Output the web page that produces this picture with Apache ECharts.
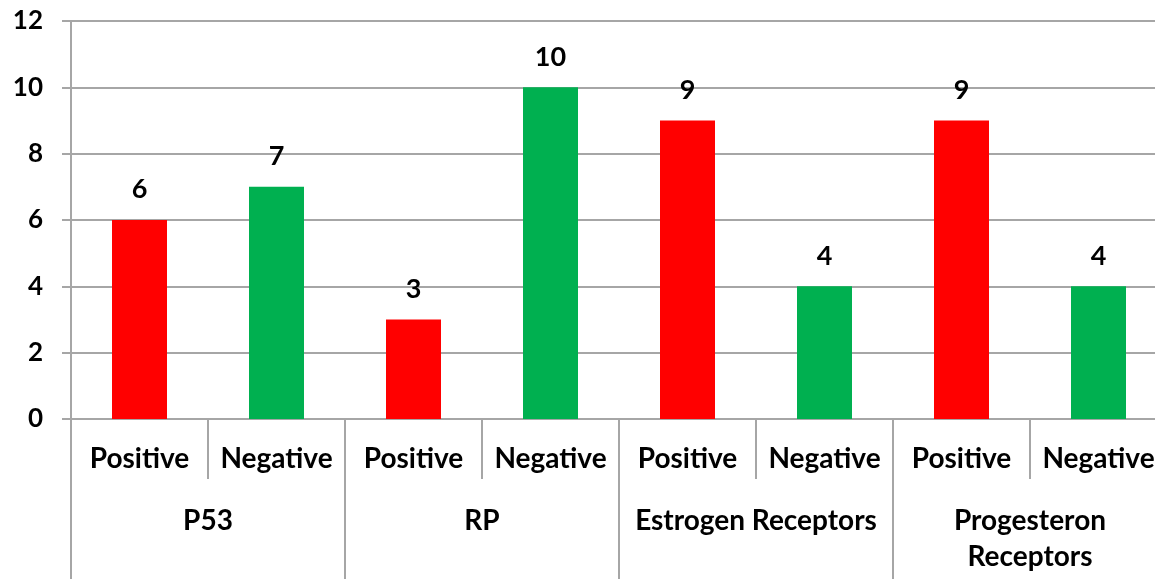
<!DOCTYPE html>
<html>
<head>
<meta charset="utf-8">
<script src="https://cdn.jsdelivr.net/npm/echarts@6/dist/echarts.min.js"></script>
<style>
  html, body { margin: 0; padding: 0; background: #ffffff; }
  #chart { width: 1155px; height: 579px; }
</style>
</head>
<body>
<div id="chart"></div>
<script>
// Marker groups and result status for each bar
const groups = ['P53', 'RP', 'Estrogen Receptors', 'Progesteron\nReceptors'];
const statuses = ['Positive', 'Negative', 'Positive', 'Negative', 'Positive', 'Negative', 'Positive', 'Negative'];
const counts = [6, 7, 3, 10, 9, 4, 9, 4];
const yTicks = { min: 0, max: 12, interval: 2 };

const RED = '#ff0000';
const GREEN = '#00b050';
const FONT = 'Lato';
const GRID_COLOR = '#a6a6a6';

const chart = echarts.init(document.getElementById('chart'), null, { renderer: 'canvas' });

chart.setOption({
  backgroundColor: '#ffffff',
  animation: false,
  textStyle: { fontFamily: FONT },
  // the plot runs slightly past the right edge of the canvas
  grid: { left: 71, top: 21, bottom: 160, right: -12, containLabel: false, outerBoundsMode: 'none' },
  xAxis: [
    {
      type: 'category',
      data: statuses,
      position: 'bottom',
      axisLine: { lineStyle: { color: GRID_COLOR, width: 2 } },
      axisTick: { show: true, interval: 0, length: 60, lineStyle: { color: GRID_COLOR, width: 2 } },
      axisLabel: { interval: 0, margin: 26, color: '#000', fontSize: 28, fontWeight: 'bold', fontFamily: FONT }
    },
    {
      type: 'category',
      data: groups,
      position: 'bottom',
      offset: 0,
      axisLine: { show: false },
      axisTick: { show: true, interval: 0, length: 162, lineStyle: { color: GRID_COLOR, width: 2 } },
      axisLabel: { interval: 0, margin: 84, color: '#000', fontSize: 28, fontWeight: 'bold', fontFamily: FONT, lineHeight: 36 }
    }
  ],
  yAxis: {
    type: 'value',
    min: yTicks.min,
    max: yTicks.max,
    interval: yTicks.interval,
    axisLine: { show: true, lineStyle: { color: GRID_COLOR, width: 2 } },
    axisTick: { show: true, length: 9, lineStyle: { color: GRID_COLOR, width: 2 } },
    splitLine: { show: true, lineStyle: { color: GRID_COLOR, width: 2 } },
    axisLabel: { margin: 28, color: '#000', fontSize: 26, fontWeight: 'bold', fontFamily: FONT }
  },
  series: [{
    type: 'bar',
    xAxisIndex: 0,
    barWidth: 55,
    data: counts.map((v, i) => ({
      value: v,
      itemStyle: { color: statuses[i] === 'Positive' ? RED : GREEN }
    })),
    label: {
      show: true,
      position: 'top',
      distance: 17,
      color: '#000',
      fontSize: 27,
      fontWeight: 'bold',
      fontFamily: FONT
    }
  }]
});
</script>
</body>
</html>
